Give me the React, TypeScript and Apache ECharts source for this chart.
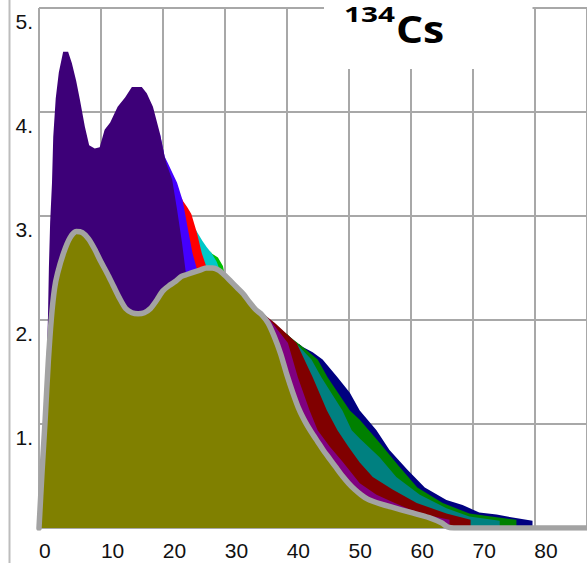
import React, { useEffect, useRef } from "react";
import * as echarts from "echarts";

// Axis tick labels
const xTickLabels = ["0", "10", "20", "30", "40", "50", "60", "70", "80"];
const yTickLabels = ["", "1.", "2.", "3.", "4.", "5."];

// Upper edge of each cumulative layer, [x, y]
const layerOlive = [
  [0, 0], [0.5, 0.55], [1, 1.05], [1.5, 1.6], [2, 2.02], [2.5, 2.3], [3, 2.45], [4, 2.65],
  [5, 2.79], [6, 2.85], [7, 2.84], [8, 2.78], [9, 2.68], [10, 2.56], [11, 2.45], [12, 2.33],
  [13, 2.21], [14, 2.11], [15, 2.07], [16, 2.06], [17, 2.07], [18, 2.11], [19, 2.19], [20, 2.28],
  [21, 2.33], [22, 2.37], [23, 2.42], [24, 2.44], [25, 2.46], [26, 2.48], [27, 2.5], [28, 2.5],
  [29, 2.48], [30, 2.43], [31, 2.37], [32, 2.31], [33, 2.25], [34, 2.17], [35, 2.1], [36, 2.05],
  [37, 1.97], [38, 1.84], [39, 1.68], [40, 1.48], [41, 1.3], [42, 1.14], [43, 1.02], [44, 0.92],
  [45, 0.83], [46, 0.74], [47, 0.66], [48, 0.58], [49, 0.5], [50, 0.43], [51, 0.37], [52, 0.32],
  [53, 0.28], [54, 0.255], [55, 0.235], [57, 0.2], [60, 0.15], [63, 0.1], [65, 0.05], [66, 0.01],
  [67, 0], [88.5, 0],
];
const layerIndigo = [
  [0, 0], [0.6, 0.5], [1, 1.16], [1.45, 2.03], [1.6, 2.51], [1.8, 2.94], [2.1, 3.32], [2.3, 3.76],
  [2.7, 4.13], [3.2, 4.38], [3.9, 4.58], [4.7, 4.58], [5.3, 4.47], [6, 4.3], [6.6, 4.12],
  [7.4, 3.86], [8.1, 3.68], [9, 3.65], [9.8, 3.66], [10.6, 3.83], [11.5, 3.9], [12.7, 4.05],
  [13.9, 4.14], [15, 4.24], [16.6, 4.24], [17.4, 4.18], [18.4, 4.05], [19.5, 3.8], [20.3, 3.57],
  [20.6, 3.5], [21.5, 3.35], [22.3, 3.06], [23.1, 2.74], [23.7, 2.46],
];
const layerBlue = [
  [19.5, 3.8], [20.3, 3.57], [20.8, 3.51], [21.5, 3.42], [22.3, 3.32], [23.2, 3.15], [24, 2.89],
  [24.8, 2.64], [25.6, 2.47],
];
const layerRed = [
  [23, 3.18], [23.2, 3.15], [24, 3.08], [24.6, 3.02], [25.5, 2.84], [26.3, 2.64], [27.1, 2.5],
];
const layerCyan = [
  [25.3, 2.87], [25.6, 2.84], [26.4, 2.76], [27.1, 2.7], [27.9, 2.64], [28.7, 2.56], [29.2, 2.48],
];
const layerLime = [
  [27.7, 2.66], [27.9, 2.64], [28.9, 2.6], [29.7, 2.52], [30, 2.44],
];
const layerPurple = [
  [36, 2.06], [37.3, 2.0], [40.2, 1.78], [41.8, 1.45], [43.7, 1.13], [45, 0.94], [47, 0.78],
  [49, 0.64], [51.8, 0.43], [54.5, 0.32], [57.1, 0.25], [59.8, 0.18], [63, 0.12], [66.3, 0.08],
];
const layerMaroon = [
  [36, 2.07], [38.1, 1.97], [41.6, 1.78], [44.2, 1.45], [46.5, 1.13], [48.2, 0.94], [50, 0.78],
  [51.8, 0.63], [53.9, 0.49], [57.1, 0.37], [61, 0.24], [65.8, 0.14], [69.7, 0.08],
];
const layerTeal = [
  [36, 2.08], [37.6, 1.98], [40.5, 1.84], [44, 1.62], [45.6, 1.45], [49, 1.13], [50.5, 0.94],
  [51.8, 0.86], [55, 0.68], [57.7, 0.49], [61.5, 0.32], [65.8, 0.19], [69.5, 0.11], [74.4, 0.07],
];
const layerGreen = [
  [40, 1.87], [40.5, 1.84], [42.6, 1.74], [45, 1.62], [46.6, 1.45], [50.2, 1.13], [51.8, 1.04],
  [55, 0.82], [58.2, 0.59], [61.1, 0.39], [65.2, 0.24], [69.5, 0.14], [73, 0.11], [77.1, 0.08],
];
const layerNavy = [
  [42, 1.77], [42.6, 1.74], [44.2, 1.69], [45.8, 1.62], [48.2, 1.45], [50.2, 1.3], [51.8, 1.13],
  [54.5, 0.94], [56.6, 0.75], [59.5, 0.56], [62.3, 0.39], [65.8, 0.27], [68.4, 0.22], [71.1, 0.15],
  [73.9, 0.13], [76.5, 0.1], [79.7, 0.07],
];

// Back to front
const layers = [
  { name: "navy", data: layerNavy, color: "#000080" },
  { name: "green", data: layerGreen, color: "#008000" },
  { name: "teal", data: layerTeal, color: "#008080" },
  { name: "maroon", data: layerMaroon, color: "#800000" },
  { name: "purple", data: layerPurple, color: "#800080" },
  { name: "lime", data: layerLime, color: "#00c000" },
  { name: "cyan", data: layerCyan, color: "#00c8c8" },
  { name: "red", data: layerRed, color: "#ff0000" },
  { name: "blue", data: layerBlue, color: "#4400ff" },
  { name: "indigo", data: layerIndigo, color: "#3d0078" },
];

const labelFont = "'Liberation Sans', Arial, sans-serif";
const gridColor = "#a8a8a8";

export default function App() {
  const ref = useRef<HTMLDivElement>(null);

  useEffect(() => {
    document.body.style.margin = "0";
    if (!ref.current) return;
    const chart = echarts.init(ref.current, null, { renderer: "svg" });

    const series: any[] = layers.map((l) => ({
      name: l.name,
      type: "line",
      data: l.data,
      symbol: "none",
      silent: true,
      lineStyle: { width: 0, opacity: 0 },
      itemStyle: { color: l.color },
      areaStyle: { color: l.color, opacity: 1 },
    }));
    series.push({
      name: "olive",
      type: "line",
      data: layerOlive,
      symbol: "none",
      silent: true,
      smooth: 0.25,
      lineStyle: { color: "#a3a3a3", width: 5.5, cap: "round", join: "round" },
      itemStyle: { color: "#808000" },
      areaStyle: { color: "#808000", opacity: 1 },
    });

    chart.setOption({
      animation: false,
      grid: { left: 39, right: 0, top: 8, bottom: 35, containLabel: false },
      xAxis: {
        type: "value",
        min: 0,
        max: 88.5,
        interval: 10,
        axisLine: { show: false },
        axisTick: { show: false },
        splitLine: { show: true, lineStyle: { color: gridColor, width: 2 } },
        axisLabel: {
          showMaxLabel: false,
          align: "left",
          margin: 12,
          fontFamily: labelFont,
          fontSize: 21,
          color: "#111",
          formatter: (v: number) => {
            const i = v / 10;
            return Number.isInteger(i) ? xTickLabels[i] ?? "" : "";
          },
        },
      },
      yAxis: {
        type: "value",
        min: 0,
        max: 5,
        interval: 1,
        axisLine: { show: false },
        axisTick: { show: false },
        splitLine: { show: true, lineStyle: { color: gridColor, width: 2 } },
        axisLabel: {
          margin: 6,
          verticalAlign: "top",
          padding: [3, 0, 0, 0],
          fontFamily: labelFont,
          fontSize: 21,
          color: "#111",
          formatter: (v: number) => yTickLabels[Math.round(v)] ?? "",
        },
      },
      graphic: [
        {
          type: "line",
          shape: { x1: 9.5, y1: 0, x2: 9.5, y2: 563 },
          style: { stroke: "#bdbdbd", lineWidth: 2 },
          z: 10,
        },
        {
          type: "rect",
          shape: { x: 324, y: 0, width: 208.5, height: 69 },
          style: { fill: "#ffffff" },
          z: 10,
        },
        {
          type: "text",
          x: 344,
          y: 3,
          scaleX: 1.35,
          z: 11,
          style: { text: "134", font: "bold 22px 'Open Sans'", fill: "#000" },
        },
        {
          type: "text",
          x: 396,
          y: 10,
          scaleX: 1.15,
          z: 11,
          style: { text: "Cs", font: "bold 37px 'Open Sans'", fill: "#000" },
        },
      ],
      series,
    });

    return () => chart.dispose();
  }, []);

  return <div ref={ref} style={{ width: 587, height: 563 }} />;
}
